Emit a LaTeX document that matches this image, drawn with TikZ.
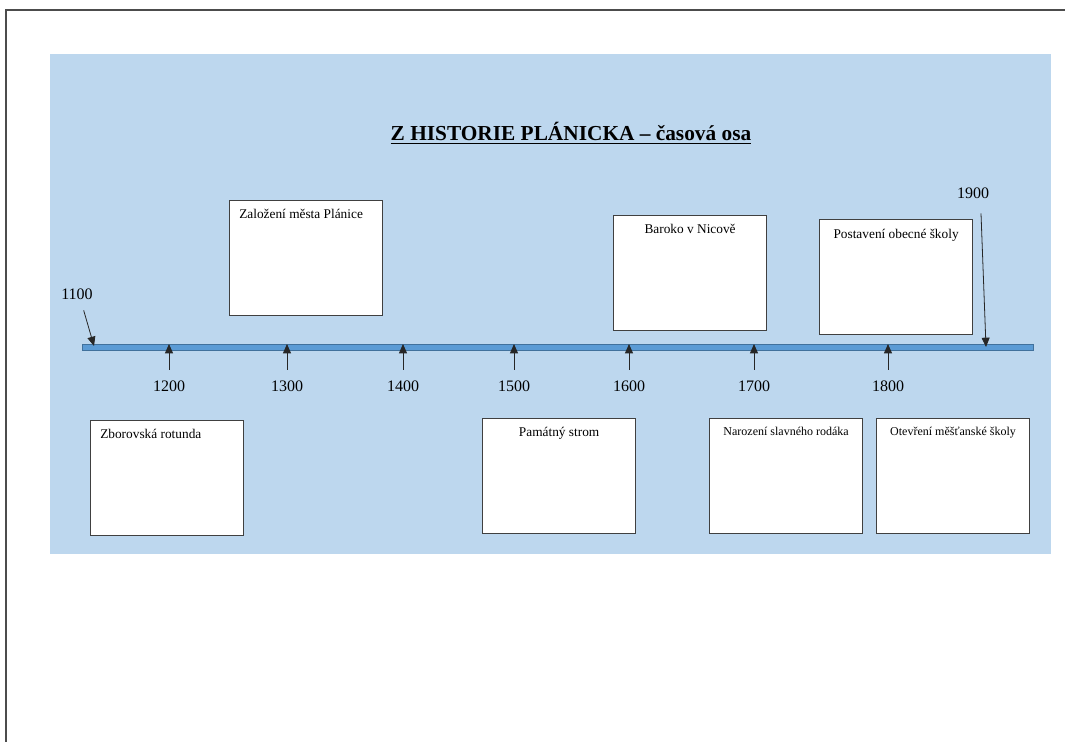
\documentclass[tikz,border=0pt]{standalone}
\usepackage{fontspec}
\setmainfont{Liberation Serif}
\usetikzlibrary{shapes, arrows.meta, positioning}

\definecolor{skyback}{HTML}{BDD7EE}
\definecolor{axisfill}{HTML}{5B9BD5}
\definecolor{axisline}{HTML}{41719C}

\tikzset{
  evbox/.style={draw=black!75, fill=white, line width=0.9pt, anchor=north west,
    minimum width=114.75pt, minimum height=86.25pt, inner sep=0pt},
  evtext/.style={inner sep=0pt, text height=6.6pt, text depth=2pt, font=\fontsize{10}{12}\selectfont},
  evsmall/.style={evtext, text height=6pt, font=\fontsize{9}{11}\selectfont},
  yr/.style={inner xsep=0pt, inner ysep=8pt, font=\fontsize{12}{14}\selectfont},
  tick/.style={-{Triangle[length=7pt,width=6pt]}, line width=0.6pt, black!85}
}

\begin{document}
\begin{tikzpicture}[x=0.75pt,y=-0.75pt]
\useasboundingbox (0,0) rectangle (1065,742);
\draw [black!70, line width=0.8pt] (6,742) -- (6,10) -- (1065,10);
\fill [skyback] (50,54) rectangle (1051,554);

\node[font=\bfseries\fontsize{16}{19}\selectfont, anchor=base] (title) at (571,141)
  {\underline{Z HISTORIE PLÁNICKA – časová osa}};

% osa
\node[draw=axisline, fill=axisfill, line width=0.6pt, anchor=north west, inner sep=0pt,
  minimum width=713.25pt, minimum height=4.5pt] (axis) at (82,344) {};

\foreach \yy/\x in {1200/169,1300/287,1400/403,1500/514,1600/629,1700/754,1800/888}{
  \node[yr] (l\yy) at (\x,386) {\yy};
  \draw [tick] (l\yy.north) -- (l\yy.north |- axis.north);
}

\node[yr] (l1100) at (77,294) {1100};
\coordinate (p1100) at (94,346);
\draw [tick] ([xshift=5pt]l1100.south) -- (p1100);

\node[yr] (l1900) at (973,193) {1900};
\coordinate (p1900) at (986,347);
\draw [tick] ([xshift=6pt,yshift=-3pt]l1900.south) -- (p1900);

% nahore
\node[evbox] (zalozeni) at (229,200) {};
\node[evtext, anchor=north west, xshift=7.5pt, yshift=-7pt] (tzalozeni) at (zalozeni.north west) {Založení města Plánice};
\node[evbox] (baroko) at (613,215) {};
\node[evtext, anchor=north, yshift=-7pt] (tbaroko) at (baroko.north) {Baroko v Nicově};
\node[evbox] (skola) at (819,219) {};
\node[evtext, anchor=north, yshift=-8pt] (tskola) at (skola.north) {Postavení obecné školy};

% dole
\node[evbox] (rotunda) at (90,420) {};
\node[evtext, anchor=north west, xshift=7.5pt, yshift=-7pt] (trotunda) at (rotunda.north west) {Zborovská rotunda};
\node[evbox] (strom) at (482,418) {};
\node[evtext, anchor=north, yshift=-7pt] (tstrom) at (strom.north) {Památný strom};
\node[evbox] (rodak) at (709,418) {};
\node[evsmall, anchor=north, yshift=-7pt] (trodak) at (rodak.north) {Narození slavného rodáka};
\node[evbox] (mestanka) at (876,418) {};
\node[evsmall, anchor=north, yshift=-7pt] (tmestanka) at (mestanka.north) {Otevření měšťanské školy};
\end{tikzpicture}
\end{document}
